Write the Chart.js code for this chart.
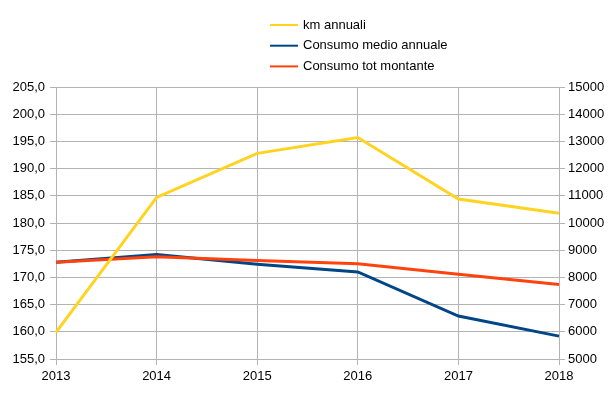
<!DOCTYPE html>
<html>
<head>
<meta charset="utf-8">
<script src="https://cdn.jsdelivr.net/npm/chart.js@4"></script>
<style>body{margin:0;background:#fff}</style>
</head>
<body>
<canvas id="myChart" width="616" height="396"></canvas>
<script>
// Data
var years = ["2013", "2014", "2015", "2016", "2017", "2018"];
var kmAnnuali = [5980, 10940, 12560, 13140, 10880, 10360];
var consumoMedio = [172.8, 174.2, 172.4, 171.0, 162.9, 159.2];
var consumoTot = [172.8, 173.8, 173.1, 172.5, 170.6, 168.7];

Chart.defaults.font.family = "'Liberation Sans', Arial, sans-serif";
Chart.defaults.font.size = 13;
Chart.defaults.color = "#000";

var gridColor = "#b3b3b3";

// Vertical legend at the top, items left-aligned like the original
var vertLegend = {
  id: "vertLegend",
  afterDraw: function (chart) {
    var c = chart.ctx;
    c.save();
    c.font = "13px 'Liberation Sans', Arial, sans-serif";
    c.textBaseline = "middle";
    c.textAlign = "left";
    chart.data.datasets.forEach(function (ds, i) {
      var y = 25 + i * 20.7;
      c.strokeStyle = ds.borderColor;
      c.lineWidth = 2;
      c.beginPath();
      c.moveTo(270, y);
      c.lineTo(298, y);
      c.stroke();
      c.fillStyle = "#000";
      c.fillText(ds.label, 303, y);
    });
    c.restore();
  }
};

var ctx = document.getElementById("myChart").getContext("2d");

var myChart = new Chart(ctx, {
  type: "line",
  data: {
    labels: years,
    datasets: [
      {
        label: "km annuali",
        data: kmAnnuali,
        borderColor: "#ffd320",
        backgroundColor: "#ffd320",
        yAxisID: "y2",
        order: 0
      },
      {
        label: "Consumo medio annuale",
        data: consumoMedio,
        borderColor: "#004586",
        backgroundColor: "#004586",
        yAxisID: "y",
        order: 2
      },
      {
        label: "Consumo tot montante",
        data: consumoTot,
        borderColor: "#ff420e",
        backgroundColor: "#ff420e",
        yAxisID: "y",
        order: 1
      }
    ]
  },
  options: {
    responsive: false,
    animation: false,
    layout: { padding: { top: 87 } },
    elements: {
      line: { borderWidth: 3, tension: 0 },
      point: { radius: 0, hoverRadius: 0 }
    },
    plugins: {
      legend: { display: false },
      tooltip: { enabled: false }
    },
    scales: {
      x: {
        offset: false,
        grid: { color: gridColor, tickColor: gridColor, tickLength: 6 },
        border: { color: gridColor },
        ticks: { padding: 4, maxRotation: 0 },
        afterFit: function (s) { s.height = 37; }
      },
      y: {
        position: "left",
        min: 155,
        max: 205,
        grid: { color: gridColor, tickColor: gridColor, tickLength: 6 },
        border: { color: gridColor },
        ticks: {
          stepSize: 5,
          padding: 5,
          callback: function (v) { return v.toFixed(1).replace(".", ","); }
        },
        afterFit: function (s) { s.width = 56; }
      },
      y2: {
        position: "right",
        min: 5000,
        max: 15000,
        grid: { drawOnChartArea: false, color: gridColor, tickColor: gridColor, tickLength: 6 },
        border: { color: gridColor },
        ticks: {
          stepSize: 1000,
          padding: 3,
          callback: function (v) { return String(v); }
        },
        afterFit: function (s) { s.width = 57; }
      }
    }
  },
  plugins: [vertLegend]
});
</script>
</body>
</html>
